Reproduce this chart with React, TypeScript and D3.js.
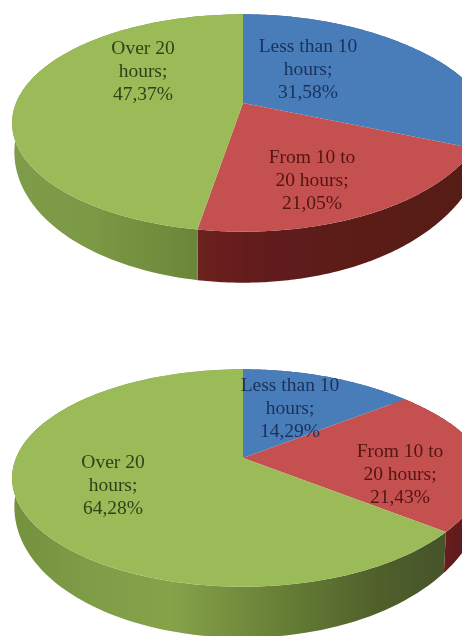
import React from "react";
import * as d3 from "d3";

const categories = ["Less than 10 hours", "From 10 to 20 hours", "Over 20 hours"];
const valuesTop = [31.58, 21.05, 47.37];
const valuesBottom = [14.29, 21.43, 64.28];
const faceColors = ["#4a7dba", "#c4514f", "#9bbb59"];
const textColors = ["#1a3058", "#531412", "#2e4218"];
const labelLines = [["Less than 10", "hours;"], ["From 10 to", "20 hours;"], ["Over 20", "hours;"]];

const W = 462, H = 636;
const cx = 243, rx = 227, ry = 105, persp = 0.184, depth = 51;

type Stop = [number, string];
const topWalls: Stop[][] = [
  [[0, "#3a6291"], [1, "#3a6291"]],
  [[195, "#6b2020"], [300, "#5e1e1a"], [462, "#571b17"]],
  [[10, "#7f9c49"], [90, "#7b9945"], [150, "#728f3e"], [197, "#6a8638"]],
];
const bottomWalls: Stop[][] = [
  [[0, "#3a6291"], [1, "#3a6291"]],
  [[440, "#6b1f1f"], [462, "#5e1c1c"]],
  [[10, "#73913d"], [90, "#7f9d47"], [170, "#86a34a"], [280, "#677f36"], [380, "#505f2b"], [442, "#46552a"]],
];
const layouts = [
  { cy: 103, label: [[308, 52], [312, 163], [143, 54]], walls: topWalls, values: valuesTop },
  { cy: 458, label: [[290, 391], [400, 457], [113, 468]], walls: bottomWalls, values: valuesBottom },
];
const lineGap = 23;

function rim(a: number, cy: number, lower: boolean): [number, number] {
  const u = Math.sin(a), v = Math.cos(a);
  const den = 1 + persp * v;
  const stretch = u > 0 ? 11 * Math.pow(u, 6) : 0;
  const x = (rx * u) / den + stretch;
  const y = cy - (ry * v) / den;
  if (!lower) return [cx + x, y];
  return [cx + x * 0.99, y + depth * Math.max(0.2, 0.47 - 0.53 * v)];
}

const pieGen = d3.pie<number>().sort(null);
const line = d3.line();
const formatPct = (v: number) => v.toFixed(2).replace(".", ",") + "%";

export default function App() {
  return (
    <svg width={W} height={H} style={{ position: "absolute", left: 0, top: 0, display: "block", background: "#fff" }}>
      <defs>
        <filter id="soft" x="-5%" y="-5%" width="110%" height="110%">
          <feGaussianBlur stdDeviation="0.6" />
        </filter>
        {layouts.map((l, li) =>
          l.walls.map((stops, si) => {
            const x0 = stops[0][0], x1 = stops[stops.length - 1][0];
            return (
              <linearGradient key={`${li}-${si}`} id={`w${li}-${si}`} gradientUnits="userSpaceOnUse" x1={x0} x2={x1} y1={0} y2={0}>
                {stops.map(([x, c], i) => (
                  <stop key={i} offset={(x - x0) / (x1 - x0)} stopColor={c} />
                ))}
              </linearGradient>
            );
          })
        )}
      </defs>
      {layouts.map((l, li) => {
        const arcs = pieGen(l.values);
        const sample = (s: number, e: number, lower: boolean) =>
          d3.range(0, 121).map((i) => rim(s + ((e - s) * i) / 120, l.cy, lower));
        return (
          <g key={li}>
            <g filter="url(#soft)">
              {arcs.map((a, i) => (
                <path
                  key={"w" + i}
                  d={line([...sample(a.startAngle, a.endAngle, false), ...sample(a.startAngle, a.endAngle, true).reverse()]) + "Z"}
                  fill={`url(#w${li}-${i})`}
                />
              ))}
              {arcs.map((a, i) => (
                <path
                  key={"f" + i}
                  d={line([[cx, l.cy], ...sample(a.startAngle, a.endAngle, false)]) + "Z"}
                  fill={faceColors[i]}
                />
              ))}
            </g>
            {arcs.map((a, i) => {
              const [tx, ty] = l.label[i];
              const lines = [...labelLines[i], formatPct(l.values[i])];
              return (
                <text
                  key={"t" + i}
                  aria-label={categories[i]}
                  fontFamily="'Liberation Serif', serif"
                  fontSize={19.5}
                  fill={textColors[i]}
                  textAnchor="middle"
                  filter="url(#soft)"
                >
                  {lines.map((t, k) => (
                    <tspan key={k} x={tx} y={ty + k * lineGap}>{t}</tspan>
                  ))}
                </text>
              );
            })}
          </g>
        );
      })}
    </svg>
  );
}
